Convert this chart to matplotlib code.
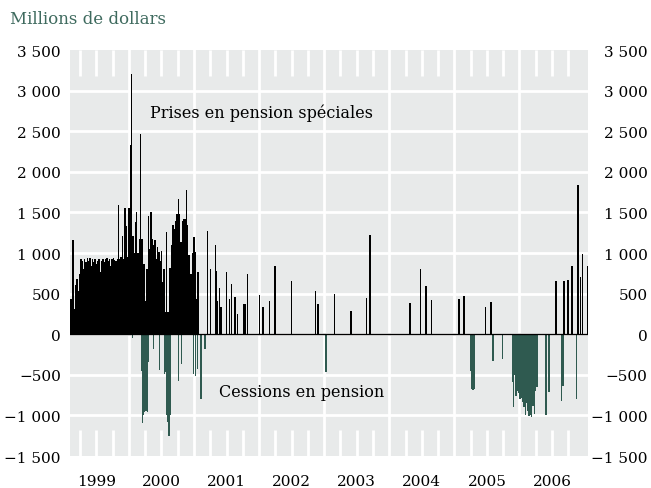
import numpy as np
import matplotlib.pyplot as plt

# Prises en pension spéciales (+) et cessions en pension (-), millions de dollars
# dense period 1999-2001: one value every dense_step years
dense_start = 1999.10
dense_step = 0.02
dense_vals = [430, 430, 1160, 310, 600, 680, 535, 740, 925, 905,
              800, 925, 885, 935, 905, 935, 845, 925, 895, 925,
              865, 905, 925, 760, 905, 925, 885, 925, 935, 905,
              925, 845, 925, 935, 918, 905, 925, 1590, 925, 945,
              1215, 930, 1550, 1335, 945, 1550, 2330, 3210, 1210, 1000,
              1380, 1500, 1000, 1170, 2470, 1170, 865, 865, 410, 800,
              1460, 1050, 1500, 1170, 1100, 1165, 925, 1070, 1010, 900,
              1030, 640, 800, 270, 1260, 270, 820, 820, 1100, 1340,
              1300, 1400, 1480, 1660, 1480, 1130, 1400, 1420, 1420, 1770,
              1350, 970, 740, 740, 1000, 1200, 1010, 430, 760]

# later, sparse operations
pos_x = [2001.209, 2001.255, 2001.332, 2001.347, 2001.363, 2001.393, 2001.413, 2001.501,
         2001.541, 2001.578, 2001.628, 2001.664, 2001.756, 2001.774, 2001.793, 2001.823,
         2002.002, 2002.063, 2002.161, 2002.243, 2002.499, 2002.868, 2002.896, 2002.908,
         2003.158, 2003.410, 2003.651, 2003.702,
         2004.316, 2004.481, 2004.562, 2004.650,
         2005.069, 2005.146, 2005.479, 2005.561,
         2006.559, 2006.687, 2006.748, 2006.808, 2006.897, 2006.939, 2006.969, 2007.046]
pos_v = [1275, 800, 1100, 780, 410, 565, 340, 770,
         430, 615, 460, 250, 370, 370, 370, 740,
         480, 330, 410, 845, 650, 530, 210, 370,
         500, 280, 440, 1225,
         390, 800, 590, 420,
         430, 465, 340, 400,
         650, 660, 665, 845, 1840, 700, 990, 835]

neg_x = [2000.057, 2000.192, 2000.204, 2000.223, 2000.243, 2000.263, 2000.283, 2000.298,
         2000.373, 2000.469, 2000.545, 2000.564, 2000.579, 2000.597, 2000.616, 2000.634,
         2000.760, 2000.806, 2000.988, 2001.022, 2001.052, 2001.106, 2001.167, 2003.026,
         2005.249, 2005.269, 2005.289, 2005.310, 2005.596, 2005.740, 2005.891, 2005.906,
         2005.929, 2005.949, 2005.969, 2005.989, 2006.009, 2006.029, 2006.049, 2006.069,
         2006.089, 2006.109, 2006.129, 2006.149, 2006.169, 2006.189, 2006.209, 2006.229,
         2006.249, 2006.269, 2006.405, 2006.456, 2006.647, 2006.671, 2006.877]
neg_v = [-50, -450, -1090, -1000, -960, -940, -960, -340,
         -180, -435, -490, -470, -1000, -1080, -1250, -1000,
         -580, -370, -490, -520, -430, -800, -180, -460,
         -450, -680, -690, -680, -325, -310, -590, -900,
         -500, -760, -700, -720, -800, -780, -830, -900,
         -1000, -850, -950, -1010, -1000, -1020, -880, -980,
         -700, -650, -1000, -715, -820, -635, -800]

years = [1999, 2000, 2001, 2002, 2003, 2004, 2005, 2006]
y_ticks = [-1500, -1000, -500, 0, 500, 1000, 1500, 2000, 2500, 3000, 3500]

BG = '#e8eaea'
GREEN = '#2f5a50'
TITLE_GREEN = '#3e6a5e'

plt.rcParams['font.family'] = 'DejaVu Serif'

fig = plt.figure(figsize=(6.51, 4.89), dpi=100)
ax = fig.add_axes([0.1075, 0.0654, 0.7957, 0.8303])
ax.set_facecolor(BG)
for s in ax.spines.values():
    s.set_visible(False)

dense_x = dense_start + dense_step * np.arange(len(dense_vals))
bw = 0.022
ax.bar(dense_x, dense_vals, width=bw, color='black', linewidth=0, zorder=3)
ax.bar(pos_x, pos_v, width=bw, color='black', linewidth=0, zorder=3)
ax.bar(neg_x, neg_v, width=bw, color=GREEN, linewidth=0, zorder=3)
ax.axhline(0, color='black', lw=1.0, zorder=4)

ax.set_xlim(1999.094, 2007.053)
ax.set_ylim(-1500, 3500)

# grid: white lines at 500 steps and year boundaries
for v in y_ticks[1:-1]:
    ax.axhline(v, color='white', lw=2, zorder=1)
for yr in years[1:]:
    ax.axvline(yr, color='white', lw=2, zorder=1)

# year labels mid-year, quarterly white ticks inside
ax.set_xticks([y + 0.5 for y in years])
ax.set_xticklabels([str(y) for y in years])
ax.set_xticks([y + q for y in years for q in (0.25, 0.75)], minor=True)
ax.tick_params(axis='x', which='both', direction='in', length=19, width=2,
               color='white', top=True, bottom=True, labelsize=11, pad=13)
for t in ax.xaxis.get_major_ticks() + ax.xaxis.get_minor_ticks():
    t.tick1line.set_zorder(2)
    t.tick2line.set_zorder(2)

def fmt(v):
    s = f'{abs(v):,}'.replace(',', ' ')
    return ('\u2212' if v < 0 else '') + s

ax.set_yticks(y_ticks)
ax.set_yticklabels([fmt(v) for v in y_ticks])
ax.tick_params(axis='y', length=0, labelsize=11, pad=6.5)

ax2 = ax.twinx()
ax2.set_ylim(ax.get_ylim())
ax2.set_yticks(y_ticks)
ax2.set_yticklabels([fmt(v) for v in y_ticks], ha='right')
ax2.tick_params(axis='y', length=0, labelsize=11, pad=43)
for s in ax2.spines.values():
    s.set_visible(False)

ax.text(2000.32, 2736, 'Prises en pension spéciales', fontsize=11.5, color='black',
        va='center', ha='left', zorder=5)
ax.text(2001.38, -700, 'Cessions en pension', fontsize=11.5, color='black',
        va='center', ha='left', zorder=5)

fig.text(10 / 651, 1 - 19.5 / 489, 'Millions de dollars', fontsize=12,
         color=TITLE_GREEN, va='center', ha='left')

fig.savefig('out.png', dpi=100)
